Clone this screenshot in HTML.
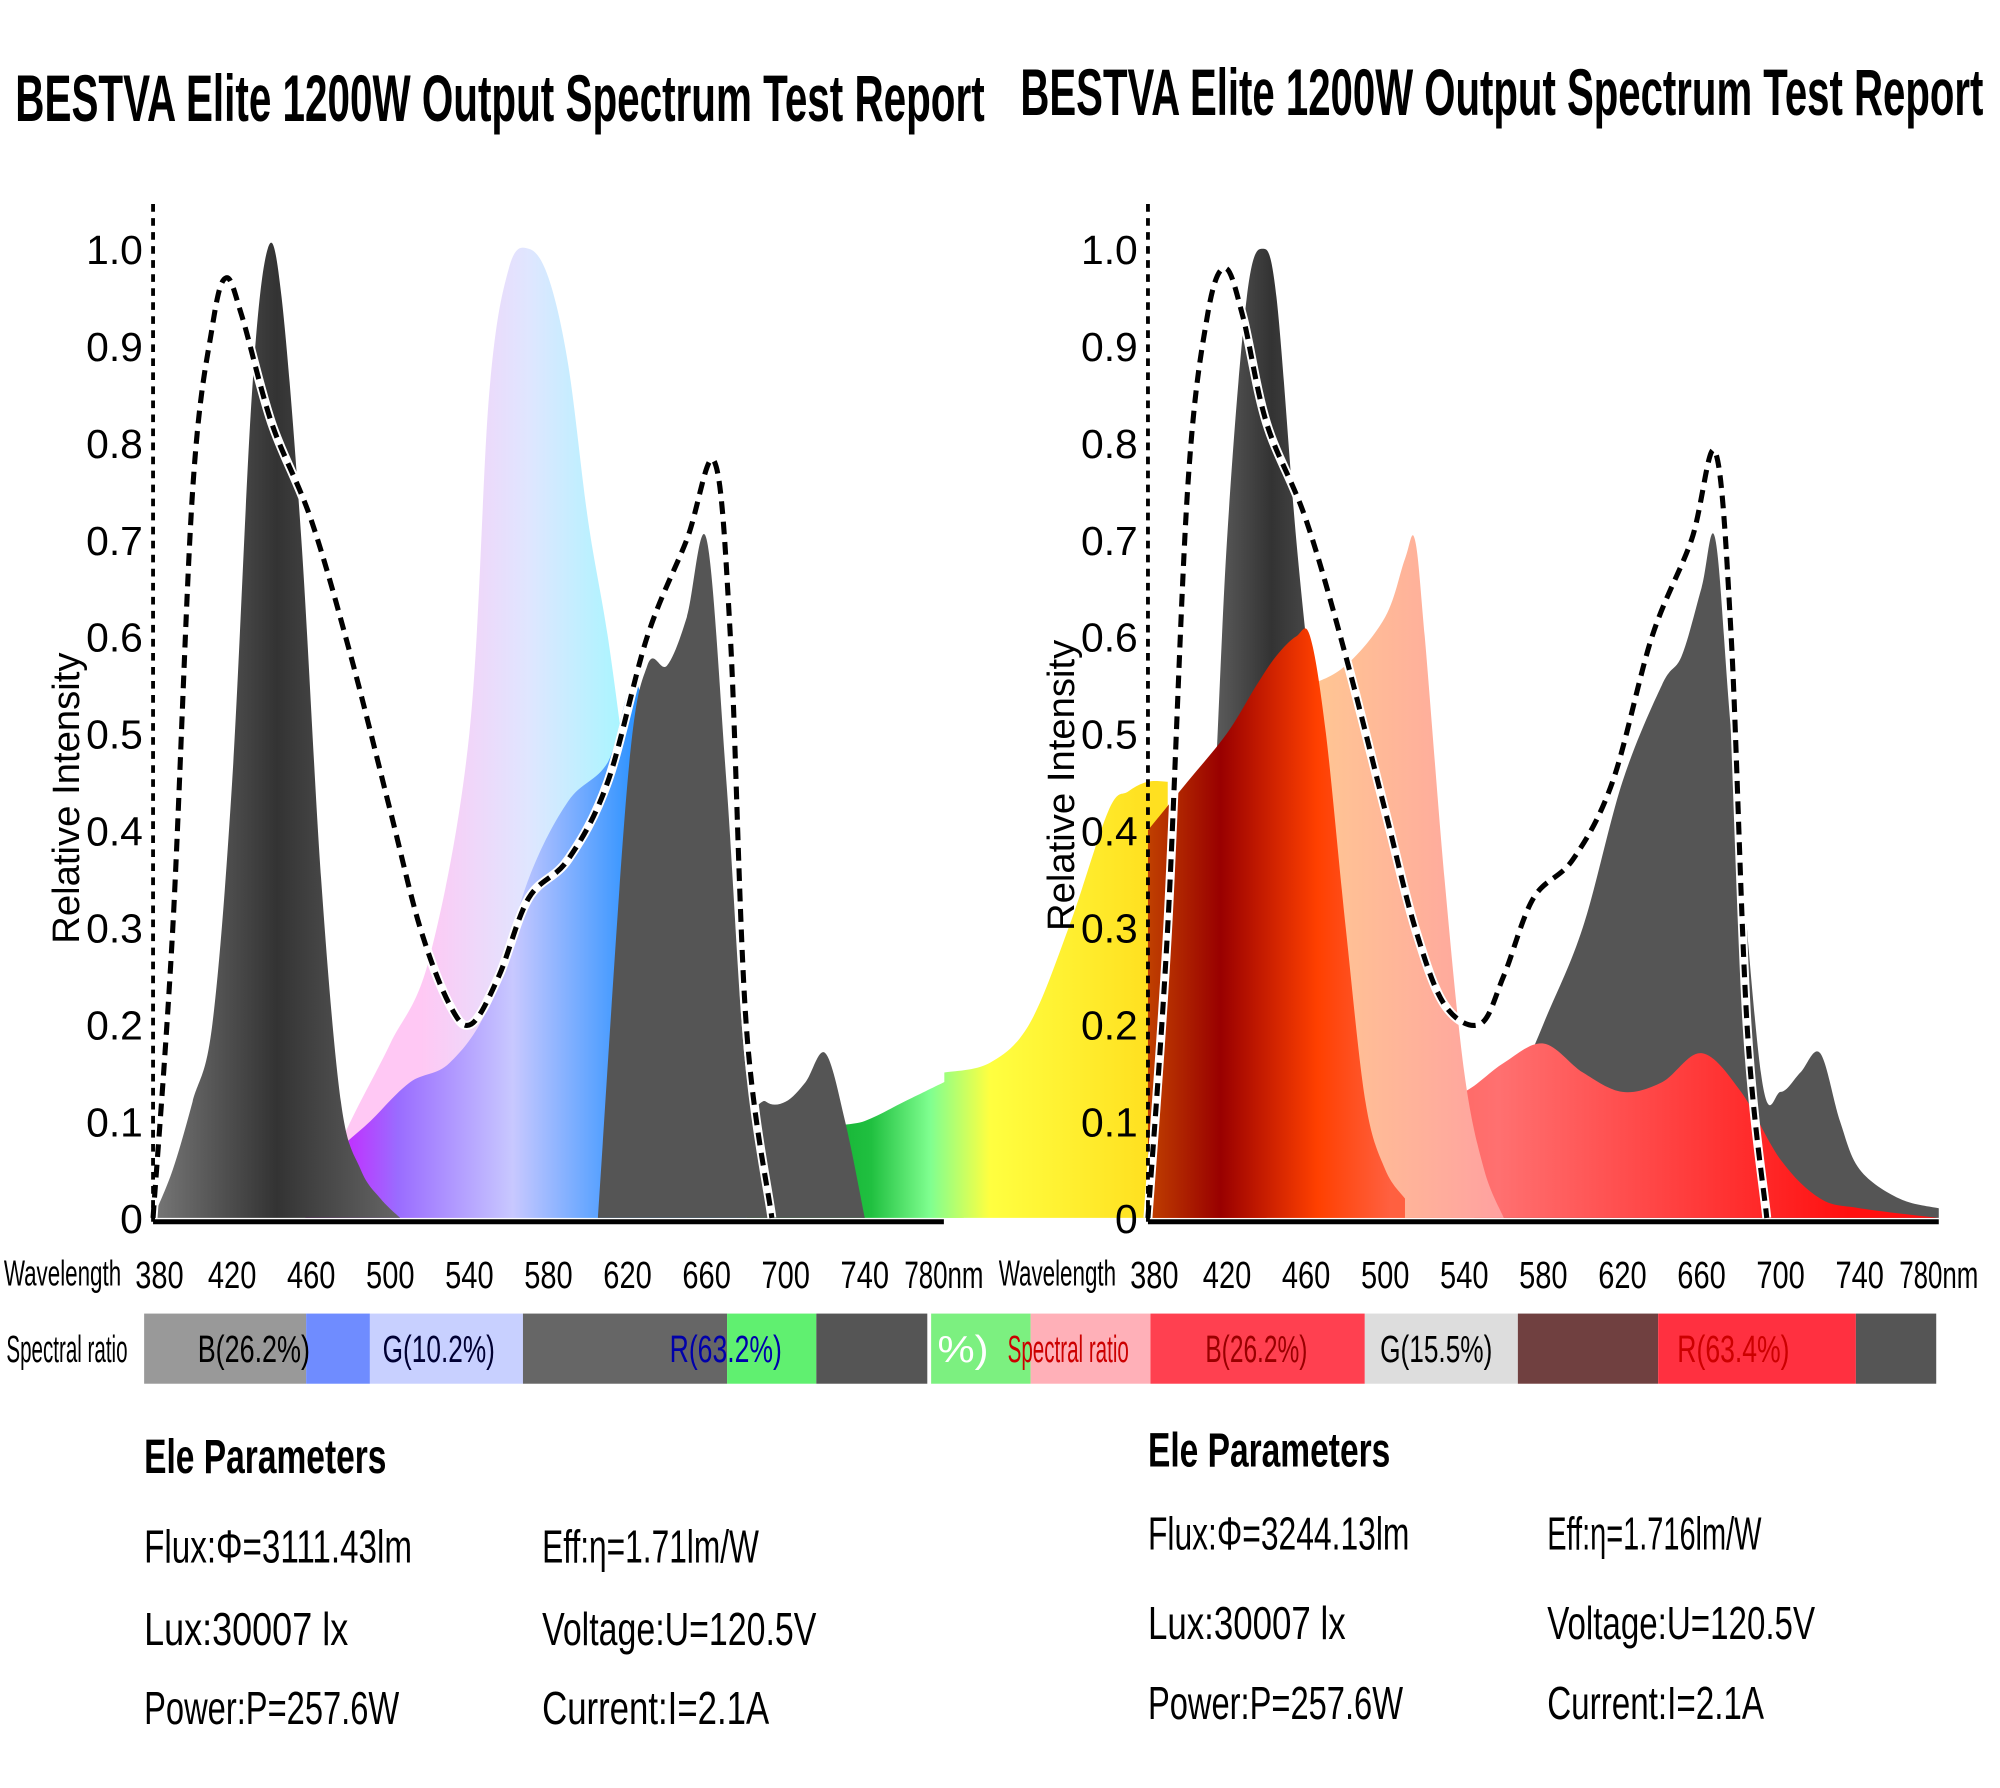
<!DOCTYPE html>
<html><head><meta charset="utf-8"><style>
html,body{margin:0;padding:0;background:#fff}
svg{display:block}
text{font-family:"Liberation Sans",sans-serif}
</style></head><body>
<svg id="c" width="2000" height="1788" viewBox="0 0 1568 1402" preserveAspectRatio="none" xmlns="http://www.w3.org/2000/svg">
<defs>
<linearGradient id="gGray" x1="0" x2="1"><stop offset="0" stop-color="#777"/><stop offset=".5" stop-color="#333"/><stop offset="1" stop-color="#666"/></linearGradient>
<linearGradient id="gPink" gradientUnits="userSpaceOnUse" x1="330" x2="500"><stop offset="0" stop-color="#ffc8f4"/><stop offset=".5" stop-color="#dfe6ff"/><stop offset="1" stop-color="#9ff8ff"/></linearGradient>
<linearGradient id="gBlue" gradientUnits="userSpaceOnUse" x1="240" x2="600"><stop offset="0" stop-color="#e000ff"/><stop offset=".2" stop-color="#9a6cff"/><stop offset=".45" stop-color="#c8c8ff"/><stop offset=".75" stop-color="#1a8cff"/><stop offset="1" stop-color="#0078a0"/></linearGradient>
<linearGradient id="gGreen" gradientUnits="userSpaceOnUse" x1="590" x2="900"><stop offset="0" stop-color="#009a20"/><stop offset=".3" stop-color="#20c040"/><stop offset=".45" stop-color="#80ff90"/><stop offset=".6" stop-color="#ffff40"/><stop offset="1" stop-color="#ffe020"/></linearGradient>
<linearGradient id="gRed" gradientUnits="userSpaceOnUse" x1="900" x2="1090"><stop offset="0" stop-color="#c04000"/><stop offset=".3" stop-color="#900"/><stop offset=".7" stop-color="#ff4000"/><stop offset="1" stop-color="#ff6040"/></linearGradient>
<linearGradient id="gSalmon" x1="0" x2="1"><stop offset="0" stop-color="#ffd090"/><stop offset="1" stop-color="#ffa0a0"/></linearGradient>
<linearGradient id="gRedLow" gradientUnits="userSpaceOnUse" x1="900" x2="1450"><stop offset="0" stop-color="#ff4020"/><stop offset=".5" stop-color="#ff7070"/><stop offset="1" stop-color="#ff1010"/></linearGradient>
</defs>
<g id="plot"></g>
<text x="12" y="95" font-size="52" font-weight="bold" textLength="760" lengthAdjust="spacingAndGlyphs">BESTVA Elite 1200W Output Spectrum Test Report</text>
<text x="800" y="90" font-size="52" font-weight="bold" textLength="755" lengthAdjust="spacingAndGlyphs">BESTVA Elite 1200W Output Spectrum Test Report</text>
</svg>
<script>
// ---- data ----
const grayL1nm=[380,390,400,410,420,430,438,445,455,465,475,485,495,505];
const grayL1v=[0,0.05,0.12,0.2,0.45,0.85,1.0,0.95,0.7,0.35,0.12,0.05,0.02,0];
const grayL2nm=[605,620,630,640,650,660,670,680,690,700,710,720,730,740];
const grayL2v=[0,0.45,0.57,0.57,0.62,0.7,0.45,0.15,0.12,0.12,0.14,0.17,0.1,0];
const pinkNm=[457,480,500,520,540,550,560,570,580,590,600,610,620,630,640,650,665];
const pinkV=[0,0.1,0.18,0.27,0.5,0.85,0.98,1.0,0.97,0.88,0.72,0.6,0.45,0.3,0.15,0.08,0];
const blueNm=[457,470,490,510,530,550,570,590,610,625,640,660,680];
const blueV=[0,0.06,0.1,0.14,0.16,0.22,0.35,0.43,0.47,0.55,0.35,0.1,0];
const greenNm=[680,700,720,740,760,780,790];
const greenV=[0,0.05,0.09,0.1,0.12,0.14,0.15];
const dashLnm=[380,390,400,410,417,425,440,460,480,500,515,530,541,555,570,590,610,630,650,664,672,680,693];
const dashLv=[0,0.3,0.75,0.92,0.97,0.93,0.82,0.72,0.58,0.42,0.3,0.22,0.2,0.25,0.33,0.37,0.45,0.6,0.7,0.78,0.6,0.2,0];
const yellowNm=[277,300,320,340,360,370,380,390];
const yellowV=[0.15,0.16,0.2,0.3,0.42,0.44,0.45,0.45];
const redLowNm=[380,420,460,500,520,540,560,580,600,620,640,660,680,700,720,740,780];
const redLowV=[0.02,0.05,0.08,0.1,0.12,0.13,0.16,0.18,0.15,0.13,0.14,0.17,0.13,0.06,0.02,0.01,0];
const salmonNm=[440,460,480,500,510,515,520,530,540,550,560];
const salmonV=[0.55,0.55,0.57,0.62,0.68,0.7,0.6,0.35,0.15,0.05,0];
const redNm=[380,400,420,435,445,455,462,470,480,490,500,510];
const redV=[0.4,0.45,0.5,0.55,0.58,0.6,0.6,0.5,0.3,0.12,0.05,0.02];
const grayR1nm=[395,410,420,430,438,445,455,465,475,490];
const grayR1v=[0,0.3,0.7,0.95,1.0,0.95,0.7,0.5,0.3,0];
const grayR2nm=[545,560,580,600,620,640,650,660,667,675,690,700,710,720,730,740,760,780];
const grayR2v=[0,0.1,0.2,0.3,0.45,0.55,0.58,0.65,0.7,0.5,0.15,0.13,0.15,0.17,0.1,0.05,0.02,0.01];
const dashRnm=[380,390,400,410,419,428,440,460,480,500,515,530,548,560,575,595,615,635,655,667,675,683,693];
const dashRv=[0,0.3,0.75,0.93,0.98,0.93,0.82,0.72,0.58,0.42,0.3,0.22,0.2,0.25,0.33,0.37,0.45,0.6,0.7,0.79,0.6,0.2,0];
const yTicks=["0","0.1","0.2","0.3","0.4","0.5","0.6","0.7","0.8","0.9","1.0"];
const xTicks=["380","420","460","500","540","580","620","660","700","740","780"];
// ---- scales ----
const xL=nm=>120+(nm-380)*1.55, xR=nm=>900+(nm-380)*1.55, yS=v=>955-v*760;
const g=document.getElementById('plot'), NS='http://www.w3.org/2000/svg';
function mk(tag,attrs){const e=document.createElementNS(NS,tag);for(const k in attrs)e.setAttribute(k,attrs[k]);g.appendChild(e);return e;}
function curve(nms,vs,xs){const p=nms.map((n,i)=>[xs(n),yS(vs[i])]);let d='M'+p[0][0]+','+p[0][1];
 for(let i=0;i<p.length-1;i++){const a=p[Math.max(0,i-1)],b=p[i],c=p[i+1],e=p[Math.min(p.length-1,i+2)];
 d+=' C'+(b[0]+(c[0]-a[0])/6)+','+(b[1]+(c[1]-a[1])/6)+' '+(c[0]-(e[0]-b[0])/6)+','+(c[1]-(e[1]-b[1])/6)+' '+c[0]+','+c[1];}return {d,p};}
function area(name,nms,vs,xs,fill){const c=curve(nms,vs,xs);const e=mk('path',{d:c.d+' L'+c.p[c.p.length-1][0]+','+yS(0)+' L'+c.p[0][0]+','+yS(0)+'Z',fill});
 
 }
function line(name,nms,vs,xs){const c=curve(nms,vs,xs);
 let e=mk('path',{d:c.d,fill:'none',stroke:'#fff',"stroke-width":7});
 
 
 e=mk('path',{d:c.d,fill:'none',stroke:'#000',"stroke-width":4,"stroke-dasharray":"10 6"});
 
 }
// left chart
area('left-pink-area',pinkNm,pinkV,xL,'url(#gPink)');
area('left-blue-area',blueNm,blueV,xL,'url(#gBlue)');
area('left-green-area',greenNm,greenV,xL,'url(#gGreen)');
area('left-gray-peak-1',grayL1nm,grayL1v,xL,'url(#gGray)');
area('left-gray-peak-2',grayL2nm,grayL2v,xL,'#555');
line('left-dashed-curve',dashLnm,dashLv,xL);
// right chart
area('right-yellow-area',yellowNm,yellowV,xR,'url(#gGreen)');
area('right-gray-peak-1',grayR1nm,grayR1v,xR,'url(#gGray)');
area('right-gray-peak-2',grayR2nm,grayR2v,xR,'#555');
area('right-red-low-area',redLowNm,redLowV,xR,'url(#gRedLow)');
area('right-salmon-area',salmonNm,salmonV,xR,'url(#gSalmon)');
area('right-red-area',redNm,redV,xR,'url(#gRed)');
line('right-dashed-curve',dashRnm,dashRv,xR);
// axes
[[xL,'left'],[xR,'right']].forEach(([xs,s])=>{
 let e=mk('line',{x1:xs(380),x2:xs(380),y1:160,y2:960,stroke:'#000',"stroke-width":3,"stroke-dasharray":"6 5"});
 
 
 e=mk('line',{x1:xs(380),x2:xs(780),y1:958,y2:958,stroke:'#000',"stroke-width":4});
 
 
 yTicks.forEach((t,i)=>{const tx=mk('text',{x:xs(380)-8,y:yS(i/10)+12,"font-size":32,"text-anchor":"end"});tx.textContent=t;
  
  });
 xTicks.forEach((t,i)=>{const tx=mk('text',{x:xs(+t)+(i==0?5:0),y:1010,"font-size":30,"text-anchor":"middle",textLength:(i==10?62:38),lengthAdjust:"spacingAndGlyphs"});tx.textContent=t+(i==10?'nm':'');
  
  });
 const wl=mk('text',{x:xs(380)-117,y:1008,"font-size":28,textLength:92,lengthAdjust:"spacingAndGlyphs"});wl.textContent='Wavelength';
 
 
 const yt=mk('text',{x:0,y:0,"font-size":30,transform:`translate(${xs(380)-58},${s=='left'?740:730}) rotate(-90)`});yt.textContent='Relative Intensity';
 
 
});
// spectral ratio band
const bandSegs=[[113,240,'#999'],[240,290,'#6f8cff'],[290,410,'#c8d0ff'],[410,570,'#666'],[570,640,'#60f070'],[640,727,'#555'],[730,808,'#7cf080'],[808,902,'#ffb0b8'],[902,1070,'#ff4050'],[1070,1190,'#ddd'],[1190,1300,'#704040'],[1300,1455,'#ff3040'],[1455,1518,'#555']];
bandSegs.forEach(b=>{const r=mk('rect',{x:b[0],y:1030,width:b[1]-b[0],height:55,fill:b[2]});
 
 });
const bandLabels=[[5,'Spectral ratio','#000',95],[155,'B(26.2%)','#000',88],[300,'G(10.2%)','#003',88],[525,'R(63.2%)','#00a',88],[735,'%)','#fff',40],[790,'Spectral ratio','#c00',95],[945,'B(26.2%)','#900',80],[1082,'G(15.5%)','#000',88],[1315,'R(63.4%)','#c00',88]];
bandLabels.forEach(b=>{const t=mk('text',{x:b[0],y:1068,"font-size":30,fill:b[2],textLength:b[3],lengthAdjust:"spacingAndGlyphs"});t.textContent=b[1];
 
 });
// parameters
const params=[[113,1155,'Ele Parameters',38,190],[113,1225,'Flux:Φ=3111.43lm',36,210],[425,1225,'Eff:η=1.71lm/W',36,170],[113,1290,'Lux:30007 lx',36,160],[425,1290,'Voltage:U=120.5V',36,215],[113,1352,'Power:P=257.6W',36,200],[425,1352,'Current:I=2.1A',36,178],
[900,1150,'Ele Parameters',38,190],[900,1215,'Flux:Φ=3244.13lm',36,205],[1213,1215,'Eff:η=1.716lm/W',36,168],[900,1285,'Lux:30007 lx',36,155],[1213,1285,'Voltage:U=120.5V',36,210],[900,1348,'Power:P=257.6W',36,200],[1213,1348,'Current:I=2.1A',36,170]];
params.forEach(p=>{const t=mk('text',{x:p[0],y:p[1],"font-size":p[3],"font-weight":p[3]>36?'bold':'normal',textLength:p[4],lengthAdjust:"spacingAndGlyphs"});t.textContent=p[2];
 
 });
</script>
</body></html>
